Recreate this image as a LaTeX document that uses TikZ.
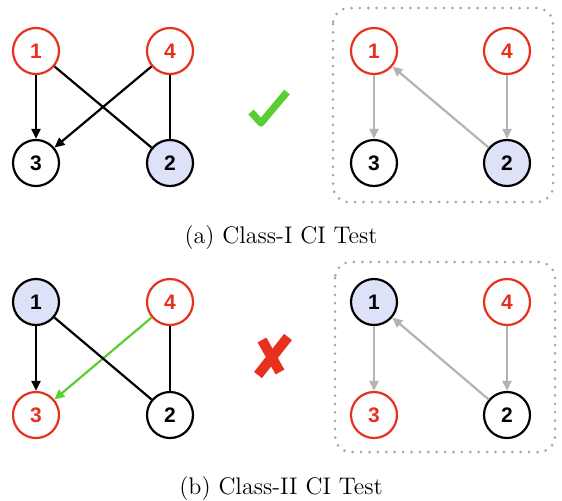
\documentclass[tikz,border=0pt]{standalone}
\usepackage{fontspec}
\newfontfamily\vfont{Liberation Sans}
\usepackage{tikz}
\usetikzlibrary{arrows.meta}
\definecolor{cired}{HTML}{E8301E}
\definecolor{cifill}{HTML}{DDE2F8}
\definecolor{cigreen}{HTML}{5ACD32}
\definecolor{cigray}{HTML}{B3B3B3}
\definecolor{cidots}{HTML}{A8A8A8}

\begin{document}
\begin{tikzpicture}[x=0.5pt, y=-0.5pt, every node/.style={font=\vfont\bfseries\fontsize{10.5}{12}\selectfont}]
  \tikzset{var/.style={circle, draw=black, line width=1.1pt, minimum size=23pt, inner sep=0pt}, obs/.style={var, draw=cired, text=cired}, cond/.style={var, fill=cifill}, arr/.style={-{Triangle[length=5pt, width=4.5pt]}, line width=1.1pt}, lnk/.style={line width=1.1pt}, garr/.style={arr, draw=cigray, fill=cigray}, dotbox/.style={draw=cidots, line width=1.5pt, line cap=round, dash pattern=on 0pt off 4.2pt, rounded corners=8pt}, capt/.style={font=\fontsize{12}{14}\selectfont}}
  \useasboundingbox (0,0) rectangle (562,500);
  % (a) left graph
  \node[obs] (a1) at (36,51) {1};
  \node[obs] (a4) at (170,51) {4};
  \node[var] (a3) at (36,163) {3};
  \node[cond] (a2) at (170,163) {2};
  \draw[arr] (a1) -- (a3);
  \draw[arr] (a4) -- (a3);
  \draw[lnk] (a1) -- (a2);
  \draw[lnk] (a4) -- (a2);
  % check mark
  \draw[cigreen, line width=3.6pt, line join=round] (251,112) -- (261,123) -- (287,92);
  % (a) right graph
  \draw[dotbox] (333,8) rectangle (553,202);
  \node[obs] (b1) at (374,51) {1};
  \node[obs] (b4) at (507,51) {4};
  \node[var] (b3) at (374,163) {3};
  \node[cond] (b2) at (507,163) {2};
  \draw[garr] (b1) -- (b3);
  \draw[garr] (b4) -- (b2);
  \draw[garr] (b2) -- (b1);
  \node[capt] (capa) at (281,237) {(a) Class-I CI Test};
  % (b) left graph
  \node[cond] (c1) at (36,302) {1};
  \node[obs] (c4) at (170,302) {4};
  \node[obs] (c3) at (36,415) {3};
  \node[var] (c2) at (170,415) {2};
  \draw[arr] (c1) -- (c3);
  \draw[arr, draw=cigreen, fill=cigreen] (c4) -- (c3);
  \draw[lnk] (c1) -- (c2);
  \draw[lnk] (c4) -- (c2);
  % cross mark
  \draw[cired, line width=5pt] (262,340) -- (280,372);
  \draw[cired, line width=5pt] (288,337) -- (258,375);
  % (b) right graph
  \draw[dotbox] (335,262) rectangle (555,452);
  \node[cond] (d1) at (374,302) {1};
  \node[obs] (d4) at (507,302) {4};
  \node[obs] (d3) at (374,415) {3};
  \node[var] (d2) at (507,415) {2};
  \draw[garr] (d1) -- (d3);
  \draw[garr] (d4) -- (d2);
  \draw[garr] (d2) -- (d1);
  \node[capt] (capb) at (281,488) {(b) Class-II CI Test};
\end{tikzpicture}
\end{document}
